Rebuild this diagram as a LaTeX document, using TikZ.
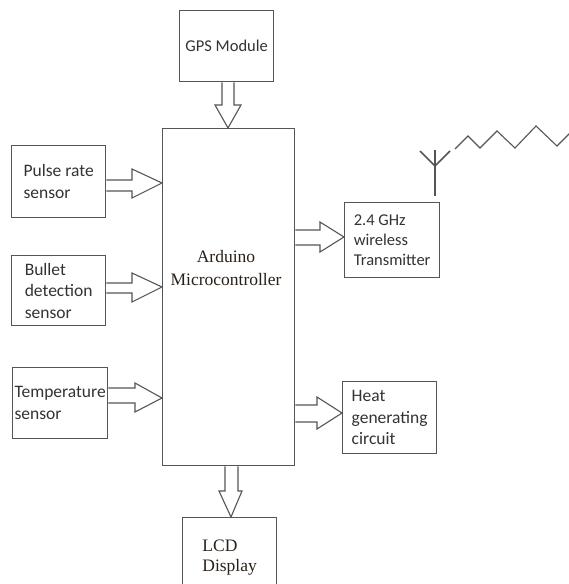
\documentclass[tikz,border=0pt]{standalone}
\usepackage{fontspec}
\setmainfont{Liberation Serif}
\newfontfamily\calib{Carlito}
\definecolor{linegray}{HTML}{555555}
\definecolor{txtgray}{HTML}{333333}
\definecolor{serifcol}{HTML}{2A2018}
\begin{document}
\begin{tikzpicture}[x=1pt,y=-1pt,
  box/.style={draw=linegray,line width=1.3pt,rectangle,anchor=north west,inner sep=0pt,
    align=left,font=\calib\fontsize{17.5}{21.5}\selectfont,text=txtgray},
  barrow/.style={draw=linegray,line width=1.1pt,line join=miter},
  wire/.style={draw=linegray,line width=1.1pt}]
\useasboundingbox (0,0) rectangle (569,584);
\clip (0,0) rectangle (569,584);
\fill[white] (0,0) rectangle (569,584);
% boxes
\node[box,minimum width=94,minimum height=71,align=center,font=\calib\fontsize{16.5}{20}\selectfont] (gps) at (179,10) {GPS Module};
\node[box,minimum width=132,minimum height=337] (micro) at (162,128) {};
\node[align=center,font=\fontsize{17.5}{23}\selectfont,text=serifcol] (microtxt) at (226,268) {Arduino\\Microcontroller};
\node[box,minimum width=94,minimum height=72] (pulse) at (11,145) {Pulse rate\\sensor};
\node[box,minimum width=94,minimum height=70] (bullet) at (11,255) {Bullet\\detection\\sensor};
\node[box,minimum width=95,minimum height=71] (temp) at (12,367) {Temperature\\sensor};
\node[box,minimum width=95,minimum height=75,font=\calib\fontsize{16.5}{20}\selectfont] (trans) at (344,202) {2.4 GHz\\wireless\\Transmitter};
\node[box,minimum width=94,minimum height=72] (heat) at (342,381) {Heat\\generating\\circuit};
\node[box,minimum width=94,minimum height=80,font=\fontsize{17.5}{20}\selectfont,text=serifcol] (lcd) at (182,517) {LCD\\Display};
% block arrows
\draw[barrow] (222,0 |- gps.south) -- (222,105) -- (215,105) -- (228,0 |- micro.north) -- (241,105) -- (234,105) -- (234,0 |- gps.south);
\draw[barrow] (225,0 |- micro.south) -- (225,491) -- (219,491) -- (231,0 |- lcd.north) -- (242,491) -- (238,491) -- (238,0 |- micro.south);
\draw[barrow] (pulse.east |- 0,180) -- (132,180) -- (132,169) -- (micro.west |- 0,183) -- (132,198) -- (132,191) -- (pulse.east |- 0,191);
\draw[barrow] (bullet.east |- 0,283) -- (132,283) -- (132,273) -- (micro.west |- 0,287) -- (132,302) -- (132,293) -- (bullet.east |- 0,293);
\draw[barrow] (temp.east |- 0,388) -- (135,388) -- (135,383) -- (micro.west |- 0,398) -- (135,412) -- (135,403) -- (temp.east |- 0,403);
\draw[barrow] (micro.east |- 0,230) -- (320,230) -- (320,222) -- (trans.west |- 0,237) -- (320,252) -- (320,245) -- (micro.east |- 0,245);
\draw[barrow] (micro.east |- 0,405) -- (317,405) -- (317,397) -- (heat.west |- 0,413) -- (317,429) -- (317,422) -- (micro.east |- 0,422);
% antenna
\coordinate (antbase) at (435,0 |- trans.north);
\coordinate (anttop) at (435,150);
\coordinate (antjoin) at (435,166);
\draw[wire,line width=1.5pt] (antbase) ++(0,-6) -- (anttop);
\draw[wire,line width=1.6pt] (420,151) -- (antjoin) -- (450,151);
% zigzag wave
\draw[wire,line join=miter] (455,149) -- (468,136) -- (480,148) -- (497,131) -- (515,148) -- (536,126) -- (557,146) -- (575,128);
\end{tikzpicture}
\end{document}
